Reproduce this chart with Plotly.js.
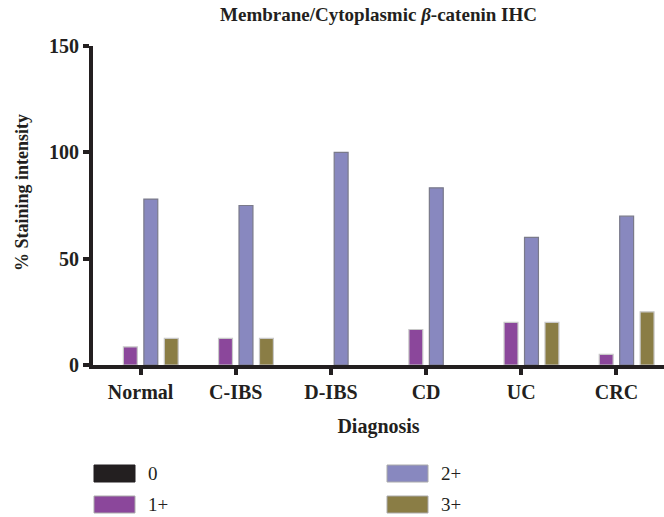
<!DOCTYPE html>
<html>
<head>
<meta charset="utf-8">
<script src="https://cdn.plot.ly/plotly-3.0.1.min.js"></script>
<style>html,body{margin:0;padding:0;background:#fff;}#chart{width:664px;height:517px;}</style>
</head>
<body>
<div id="chart"></div>
<script>
const categories = ["Normal", "C-IBS", "D-IBS", "CD", "UC", "CRC"];
const seriesNames = ["0", "1+", "2+", "3+"];
const values0  = [0, 0, 0, 0, 0, 0];
const values1p = [8.5, 12.5, 0, 16.7, 20, 5];
const values2p = [78, 75, 100, 83.3, 60, 70];
const values3p = [12.5, 12.5, 0, 0, 20, 25];
const yTicks = [0, 50, 100, 150];

const colors = ["#231f20", "#8b479b", "#8888bf", "#8a7d45"];
const lineColors = ["#231f20", "#c8c8c8", "#7a7a8a", "#c8c8c8"];
const allValues = [values0, values1p, values2p, values3p];

const FONT = "Liberation Serif, Times New Roman, serif";

const traces = allValues.map((v, i) => ({
  type: "bar",
  name: seriesNames[i],
  x: categories,
  y: v,
  marker: { color: colors[i], line: { color: lineColors[i], width: v.map(val => val > 0 ? 1.2 : 0) } },
  showlegend: false,
  hoverinfo: "x+y+name"
}));

// manual legend (two columns)
const legendPos = [
  { x: 94, y: 465 }, { x: 94, y: 496 }, { x: 387, y: 465 }, { x: 387, y: 496 }
];
const shapes = [];
const annotations = [];
seriesNames.forEach((n, i) => {
  const p = legendPos[i];
  shapes.push({
    type: "rect", xref: "paper", yref: "paper",
    x0: (p.x - 93) / 571, x1: (p.x + 41 - 93) / 571,
    y0: (365 - p.y) / 319, y1: (365 - p.y - 17) / 319,
    fillcolor: colors[i], line: { color: i === 0 ? "#231f20" : "#aaaaaa", width: 1 }
  });
  annotations.push({
    xref: "paper", yref: "paper",
    x: (p.x + 52 - 93) / 571, y: (365 - p.y - 8.5) / 319,
    xanchor: "left", yanchor: "middle", showarrow: false,
    text: n, font: { family: FONT, size: 19, color: "#231f20" }
  });
});
// y-axis title placed like the reference
annotations.push({
  xref: "paper", yref: "paper",
  x: (22 - 93) / 571, y: (365 - 193) / 319,
  xanchor: "center", yanchor: "middle", showarrow: false, textangle: -90,
  text: "<b>% Staining intensity</b>", font: { family: FONT, size: 18, color: "#231f20" }
});

const layout = {
  width: 664, height: 517,
  margin: { l: 93, r: 0, t: 46, b: 152 },
  paper_bgcolor: "#ffffff", plot_bgcolor: "#ffffff",
  barmode: "group", bargap: 0.14, bargroupgap: 0.32,
  title: {
    text: "<b>Membrane/Cytoplasmic <i>β</i>-catenin IHC</b>",
    font: { family: FONT, size: 19, color: "#231f20" },
    x: 0.5, xref: "paper", xanchor: "center", y: 0.972, yref: "container", yanchor: "middle"
  },
  xaxis: {
    type: "category", range: [-0.5, 5.5],
    showline: true, linecolor: "#231f20", linewidth: 4,
    ticks: "outside", ticklen: 6, tickwidth: 4, tickcolor: "#231f20",
    showgrid: false, zeroline: false,
    tickfont: { family: FONT, size: 20, color: "#231f20", weight: "bold" },
    title: { text: "<b>Diagnosis</b>", font: { family: FONT, size: 20, color: "#231f20" }, standoff: 18 }
  },
  yaxis: {
    range: [0, 150], tickvals: yTicks, ticktext: yTicks.map(String),
    showline: true, linecolor: "#231f20", linewidth: 4,
    ticks: "outside", ticklen: 6, tickwidth: 4, tickcolor: "#231f20",
    showgrid: false, zeroline: false,
    tickfont: { family: FONT, size: 20, color: "#231f20", weight: "bold" }
  },
  shapes: shapes,
  annotations: annotations
};

Plotly.newPlot("chart", traces, layout, { displayModeBar: false, staticPlot: true });
</script>
</body>
</html>
